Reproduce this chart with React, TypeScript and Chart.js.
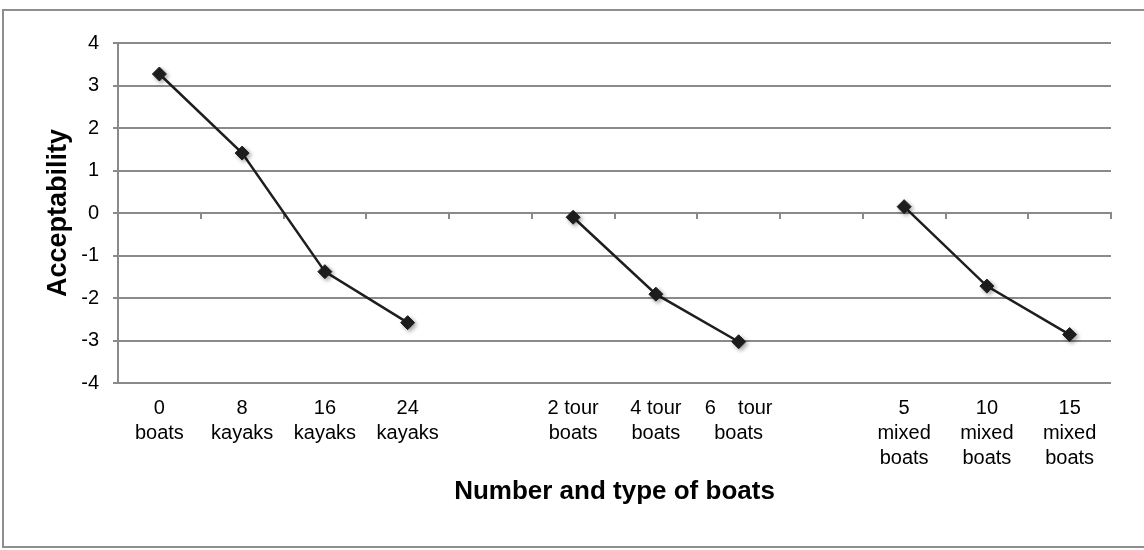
import React, { useEffect, useRef } from "react";
import { Chart, registerables } from "chart.js";

Chart.register(...registerables);

// Category labels (multi-line), with empty slots separating the three groups
const categories: string[][] = [
  ["0", "boats"],
  ["8", "kayaks"],
  ["16", "kayaks"],
  ["24", "kayaks"],
  [""],
  ["2 tour", "boats"],
  ["4 tour", "boats"],
  ["6    tour", "boats"],
  [""],
  ["5", "mixed", "boats"],
  ["10", "mixed", "boats"],
  ["15", "mixed", "boats"],
];

// Acceptability values per group
const kayakValues = [3.27, 1.41, -1.38, -2.58];
const tourValues = [-0.1, -1.91, -3.03];
const mixedValues = [0.15, -1.72, -2.86];

// Y-axis range and step
const yMin = -4;
const yMax = 4;
const yStep = 1;

const yTitle = "Acceptability";
const xTitle = "Number and type of boats";

const series: (number | null)[] = [
  ...kayakValues,
  null,
  ...tourValues,
  null,
  ...mixedValues,
];

const FONT = '"Liberation Sans", Arial, Helvetica, sans-serif';
const GRID = "#8a8a8a";
const INK = "#1e1e1e";

const shadowPlugin = {
  id: "pointShadow",
  beforeDatasetDraw(chart: any, args: any) {
    if (args.index === 0) {
      const ctx = chart.ctx;
      ctx.save();
      ctx.shadowColor = "rgba(0,0,0,0.35)";
      ctx.shadowBlur = 4;
      ctx.shadowOffsetX = 2;
      ctx.shadowOffsetY = 2;
    }
  },
  afterDatasetDraw(chart: any, args: any) {
    if (args.index === 0) {
      chart.ctx.restore();
    }
  },
};

export default function App() {
  const ref = useRef<HTMLCanvasElement>(null);

  useEffect(() => {
    document.body.style.margin = "0";
    document.body.style.overflow = "hidden";
    Chart.defaults.font.family = FONT;
    Chart.defaults.color = "#000";

    const chart = new Chart(ref.current as HTMLCanvasElement, {
      type: "line",
      data: {
        labels: categories as any,
        datasets: [
          {
            label: "points",
            data: series,
            showLine: false,
            pointStyle: "rectRot",
            pointRadius: 7,
            pointBorderWidth: 1,
            pointBackgroundColor: INK,
            pointBorderColor: INK,
            xAxisID: "x",
            yAxisID: "y",
          },
          {
            label: "line",
            data: series,
            borderColor: INK,
            borderWidth: 2.5,
            pointRadius: 0,
            spanGaps: false,
            fill: false,
            tension: 0,
            xAxisID: "x",
            yAxisID: "y",
          },
        ],
      },
      options: {
        responsive: false,
        animation: false,
        devicePixelRatio: 1,
        layout: { padding: { left: 39, top: 43, right: 33, bottom: 43 } },
        plugins: {
          legend: { display: false },
          tooltip: { enabled: false },
        },
        scales: {
          x: {
            type: "category",
            position: "bottom",
            offset: true,
            grid: { display: false, drawTicks: false },
            border: { display: false },
            ticks: {
              padding: 13,
              maxRotation: 0,
              minRotation: 0,
              autoSkip: false,
              color: "#000",
              font: { size: 20, family: FONT, lineHeight: 1.25 },
            },
            title: {
              display: true,
              text: xTitle,
              color: "#000",
              padding: { top: 0, bottom: 0 },
              font: { size: 26, weight: "bold", family: FONT, lineHeight: 1.2 },
            },
            afterFit: (scale: any) => {
              scale.height = 124;
            },
          },
          x2: {
            type: "category",
            axis: "x",
            position: { y: 0 } as any,
            offset: true,
            grid: {
              display: true,
              drawOnChartArea: false,
              offset: true,
              drawTicks: true,
              tickLength: 5,
              color: GRID,
              lineWidth: 2,
            },
            border: { display: true, color: GRID, width: 2 },
            ticks: { display: false },
          },
          y: {
            type: "linear",
            position: "left",
            min: yMin,
            max: yMax,
            ticks: {
              stepSize: yStep,
              padding: 14,
              color: "#000",
              font: { size: 20, family: FONT },
            },
            grid: {
              color: GRID,
              lineWidth: 2,
              drawTicks: true,
              tickLength: 5,
            },
            border: { display: true, color: GRID, width: 2 },
            title: {
              display: true,
              text: yTitle,
              color: "#000",
              padding: { top: 3, bottom: 0 },
              font: { size: 27, weight: "bold", family: FONT, lineHeight: 1.2 },
            },
            afterFit: (scale: any) => {
              scale.width = 79;
            },
          },
        },
      } as any,
      plugins: [shadowPlugin],
    });

    return () => chart.destroy();
  }, []);

  return (
    <div
      style={{
        position: "relative",
        width: 1144,
        height: 550,
        overflow: "hidden",
        background: "#fff",
      }}
    >
      <div
        style={{
          position: "absolute",
          left: 2,
          top: 9,
          width: 1200,
          height: 535,
          border: "2px solid #8e8e8e",
        }}
      />
      <canvas
        ref={ref}
        width={1144}
        height={550}
        style={{ position: "absolute", left: 0, top: 0 }}
      />
    </div>
  );
}
